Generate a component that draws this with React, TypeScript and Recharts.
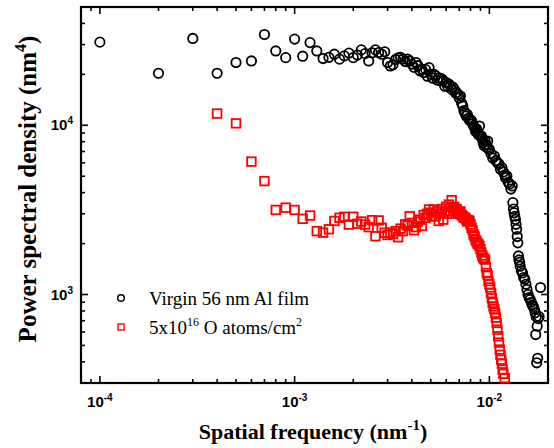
import React from "react";
import { ScatterChart, Scatter, XAxis, YAxis } from "recharts";

// spatial frequency in units of 1e-4 nm^-1, PSD in nm^4
const virginK = [
  1, 2, 3, 4, 5, 6, 7, 8, 9, 10, 11, 12, 13, 14, 15, 16, 17, 18, 19, 20,
  21, 22, 23, 24, 25, 26, 27, 28, 29, 30, 31, 32, 33, 34, 35, 36, 37, 38, 39, 40,
  41, 42, 43, 44, 45, 46, 47, 48, 49, 50, 51, 52, 53, 54, 55, 56, 57, 58, 59, 60,
  61, 62, 63, 64, 65, 66, 67, 68, 69, 70, 71, 72, 73, 74, 75, 76, 77, 78, 79, 80,
  81, 82, 83, 84, 85, 86, 87, 88, 89, 90, 91, 92, 93, 94, 95, 96, 97, 98, 99, 100,
  102, 104, 106, 108, 110, 112, 114, 116, 118, 120, 121, 123, 125, 127, 129, 131,
  132, 133, 134, 135, 136, 137, 138, 139, 140, 141, 142, 143, 144, 146, 148, 150,
  152, 154, 156, 158, 160, 162, 164, 166, 168, 170, 172, 173, 174, 175, 176, 177,
  178, 180, 183,
];
const virginPsd = [
  31000, 20300, 32600, 20300, 23500, 24000, 34400, 27500, 25100, 32300,
  25600, 30800, 27500, 24800, 25200, 26300, 24600, 25700, 26700, 25100,
  26000, 27900, 26500, 24000, 26800, 27900, 26900, 26300, 27200, 23500,
  22400, 22800, 24500, 25000, 25200, 24600, 23800, 24600, 24000, 23000,
  22000, 23500, 22500, 21000, 21400, 20500, 21400, 19500, 21900, 20000,
  19000, 20000, 19600, 18500, 19100, 18300, 18800, 18300, 17000, 17900,
  17000, 17500, 17100, 16300, 16800, 16300, 15500, 15600, 15250, 14500,
  14900, 13500, 13000, 12200, 11800, 11350, 11600, 11000, 10700, 10800,
  10600, 10200, 9900, 9700, 9200, 9500, 9000, 8800, 9900, 8600,
  8650, 8300, 7900, 7600, 8100, 7700, 7400, 8070, 7300, 7200,
  6800, 6400, 6580, 6200, 6010, 5900, 5500, 5620, 5300, 5100, 4900, 5010,
  4600, 4500, 4200, 4380,
  3490, 3200, 3040, 2900, 2780, 2600, 2430, 2200, 2020, 1690, 1600, 1550,
  1470, 1380, 1340, 1260,
  1230, 1150, 1070, 1000, 960, 935, 900, 870, 850, 820, 780, 580, 740, 395,
  650, 420, 720, 740, 1100,
];

const oxygenK = [
  4, 5, 6, 7, 8, 9, 10, 11, 12, 13, 14, 15, 16, 17, 18, 19, 20, 21, 22, 23,
  24, 25, 26, 27, 28, 29, 30, 31, 32, 33, 34, 35, 36, 37, 38, 39, 40, 41, 42, 43,
  44, 45, 46, 47, 48, 49, 50, 51, 52, 53, 54, 55, 56, 57, 58, 59, 60, 61, 62, 63,
  64, 65, 66, 67, 68, 69, 70, 71, 72, 73, 74, 75, 76, 77, 78, 79, 80, 81, 82, 83,
  84, 85, 86, 87, 88, 89, 90, 91, 92, 93, 94, 95, 96, 97, 98, 99, 100, 101, 102, 103,
  104, 105, 106, 107, 108, 109, 110, 111, 112, 113, 114, 115, 116, 117, 118, 120,
];
const oxygenPsd = [
  11730, 10270, 6100, 4680, 3160, 3260, 3160, 2800, 2930, 2370,
  2320, 2430, 2720, 2840, 2880, 2590, 2880, 2620, 2700, 2590,
  2500, 2750, 2210, 2740, 2480, 2320, 2250, 2320, 2280, 2370,
  2180, 2450, 2370, 2600, 2550, 2900, 2650, 2400, 2500, 2700,
  2770, 2540, 2950, 2840, 3000, 3180, 3050, 2900, 3180, 2900,
  3100, 2720, 3000, 3200, 2770, 3100, 3300, 3000, 3400, 3100,
  3610, 3260, 3300, 3150, 3200, 3000, 3040, 3100, 2950, 2900,
  2840, 2850, 2780, 2700, 2750, 2720, 2600, 2480, 2400, 2260,
  2200, 2100, 2050, 2000, 1980, 1930, 1850, 1770, 1700, 1650,
  1620, 1610, 1450, 1340, 1300, 1200, 1150, 1100, 1020, 950,
  893, 850, 820, 780, 730, 680, 620, 567, 520, 473,
  440, 412, 390, 360, 340, 321,
];

const xTicks = [
  9e-5, 1e-4, 2e-4, 3e-4, 4e-4, 5e-4, 6e-4, 7e-4, 8e-4, 9e-4,
  1e-3, 2e-3, 3e-3, 4e-3, 5e-3, 6e-3, 7e-3, 8e-3, 9e-3, 1e-2,
];
const yTicks = [
  400, 500, 600, 700, 800, 900, 1000, 2000, 3000, 4000, 5000, 6000, 7000,
  8000, 9000, 10000, 20000, 30000, 40000,
];

const virginData = virginK.map((k, i) => ({ f: k * 1e-4, p: virginPsd[i] }));
const oxygenData = oxygenK.map((k, i) => ({ f: k * 1e-4, p: oxygenPsd[i] }));

const W = 554;
const H = 448;
const LEFT = 81;
const RIGHT = 548;
const TOP = 7;
const BOTTOM = 383;

const SERIF = "'Liberation Serif', 'Times New Roman', serif";
const SANS = "'Liberation Sans', Arial, sans-serif";

const isDecade = (v: number) =>
  Math.abs(Math.log10(v) - Math.round(Math.log10(v))) < 1e-6;

// inward ticks, mirrored onto the top edge
const BottomTick = (props: any) => {
  const { x, payload } = props;
  const major = isDecade(payload.value);
  const len = major ? 7 : 4;
  const exp = Math.round(Math.log10(payload.value));
  return (
    <g>
      <line x1={x} x2={x} y1={BOTTOM} y2={BOTTOM - len} stroke="#000000" strokeWidth={1.6} />
      <line x1={x} x2={x} y1={TOP} y2={TOP + len} stroke="#000000" strokeWidth={1.6} />
      {major && (
        <text x={x} y={BOTTOM + 24} textAnchor="middle" fontFamily={SANS} fontWeight="bold" fontSize={15}>
          10
          <tspan dy={-6} fontSize={10}>{exp}</tspan>
        </text>
      )}
    </g>
  );
};

// inward ticks, mirrored onto the right edge
const LeftTick = (props: any) => {
  const { y, payload } = props;
  const major = isDecade(payload.value);
  const len = major ? 7 : 4;
  const exp = Math.round(Math.log10(payload.value));
  return (
    <g>
      <line x1={LEFT} x2={LEFT + len} y1={y} y2={y} stroke="#000000" strokeWidth={1.6} />
      <line x1={RIGHT} x2={RIGHT - len} y1={y} y2={y} stroke="#000000" strokeWidth={1.6} />
      {major && (
        <text x={LEFT - 8} y={y + 5} textAnchor="end" fontFamily={SANS} fontWeight="bold" fontSize={15}>
          10
          <tspan dy={-6} fontSize={10}>{exp}</tspan>
        </text>
      )}
    </g>
  );
};

const OpenCircle = (props: any) => (
  <circle cx={props.cx} cy={props.cy} r={4.7} fill="none" stroke="#000" strokeWidth={1.8} />
);

const OpenSquare = (props: any) => (
  <rect x={props.cx - 4.3} y={props.cy - 4.3} width={8.6} height={8.6} fill="none" stroke="#ff0000" strokeWidth={1.8} />
);

// box around the plot area
const Frame = () => (
  <rect
    x={LEFT}
    y={TOP}
    width={RIGHT - LEFT}
    height={BOTTOM - TOP}
    fill="none"
    stroke="#000000"
    strokeWidth={2.2}
  />
);

const Titles = () => (
  <g>
    <text x={313} y={439} textAnchor="middle" fontFamily={SERIF} fontWeight="bold" fontSize={22}>
      Spatial frequency (nm
      <tspan dy={-9} fontSize={15}>-1</tspan>
      <tspan dy={9}>)</tspan>
    </text>
    <text
      x={36}
      y={189}
      transform="rotate(-90, 36, 189)"
      textAnchor="middle"
      fontFamily={SERIF}
      fontWeight="bold"
      fontSize={25}
    >
      Power spectral density (nm
      <tspan dy={-10} fontSize={16}>4</tspan>
      <tspan dy={10}>)</tspan>
    </text>
  </g>
);

const LegendBox = () => (
  <g fontFamily={SERIF} fontSize={19}>
    <circle cx={121} cy={298} r={3.3} fill="none" stroke="#000" strokeWidth={1.5} />
    <text x={149} y={305}>Virgin 56 nm Al film</text>
    <rect x={118} y={324} width={6} height={6} fill="none" stroke="#ff0000" strokeWidth={1.4} />
    <text x={149} y={334}>
      5x10
      <tspan dy={-8} fontSize={12}>16</tspan>
      <tspan dy={8}> O atoms/cm</tspan>
      <tspan dy={-8} fontSize={12}>2</tspan>
    </text>
  </g>
);

export default function App() {
  return (
    <div style={{ position: "absolute", left: 0, top: 0, background: "#fff" }}>
      <ScatterChart width={W} height={H} margin={{ top: TOP, right: W - RIGHT, bottom: 0, left: 0 }}>
        <XAxis
          dataKey="f"
          type="number"
          scale="log"
          domain={[8e-5, 0.02]}
          allowDataOverflow
          ticks={xTicks}
          interval={0}
          tick={<BottomTick />}
          tickLine={false}
          axisLine={{ stroke: "#000", strokeWidth: 2 }}
          height={H - BOTTOM}
        />
        <YAxis
          dataKey="p"
          type="number"
          scale="log"
          domain={[300, 50000]}
          allowDataOverflow
          ticks={yTicks}
          interval={0}
          tick={<LeftTick />}
          tickLine={false}
          axisLine={{ stroke: "#000", strokeWidth: 2 }}
          width={LEFT}
        />
        <Scatter
          name="5x10^16 O atoms/cm^2"
          data={oxygenData}
          shape={OpenSquare}
          isAnimationActive={false}
        />
        <Scatter
          name="Virgin 56 nm Al film"
          data={virginData}
          shape={OpenCircle}
          isAnimationActive={false}
        />
        <Frame />
        <Titles />
        <LegendBox />
      </ScatterChart>
    </div>
  );
}
